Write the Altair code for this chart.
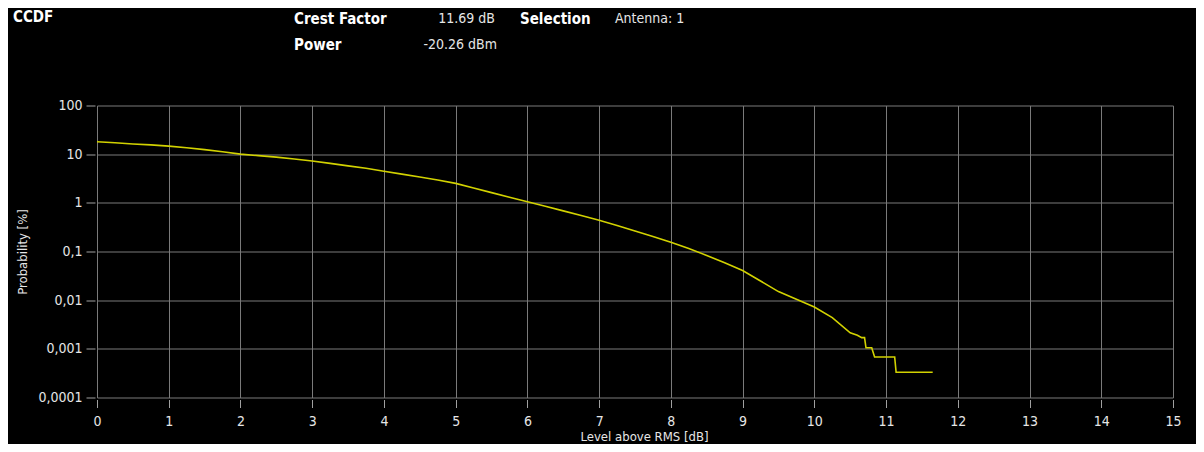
import altair as alt
import pandas as pd

# ---- data ----
level_db = [0.0, 0.25, 0.5, 0.75, 1.0, 1.25, 1.5, 1.75, 2.0, 2.25, 2.5, 2.75,
            3.0, 3.25, 3.5, 3.75, 4.0, 4.25, 4.5, 4.75, 5.0, 5.25, 5.5, 5.75,
            6.0, 6.25, 6.5, 6.75, 7.0, 7.25, 7.5, 7.75, 8.0, 8.25, 8.5, 8.75,
            9.0, 9.25, 9.5, 9.75, 10.0, 10.25, 10.5, 10.6, 10.66, 10.70, 10.72,
            10.80, 10.84, 11.12, 11.14, 11.65]
prob_pct = [18.0, 17.2, 16.2, 15.5, 14.6, 13.5, 12.4, 11.2, 10.0, 9.33, 8.71, 7.94,
            7.24, 6.46, 5.75, 5.13, 4.47, 3.89, 3.39, 2.95, 2.51, 2.02, 1.62, 1.30,
            1.05, 0.851, 0.684, 0.550, 0.437, 0.343, 0.263, 0.204, 0.155, 0.115, 0.0832, 0.0589,
            0.0407, 0.0248, 0.0150, 0.0104, 0.00724, 0.00437, 0.00214, 0.0019, 0.0017, 0.0017, 0.00105,
            0.00105, 0.00068, 0.00068, 0.00033, 0.00033]

x_ticks = list(range(0, 16))
y_ticks = [0.0001, 0.001, 0.01, 0.1, 1, 10, 100]

df = pd.DataFrame({"level": level_db, "prob": prob_pct})

FONT = "Liberation Sans Narrow, DejaVu Sans Condensed, Arial Narrow, Liberation Sans, sans-serif"
GRID = "#7a7a7a"
TXT = "#e6e6e6"

W, H = 1076, 292

base = alt.Chart(df)

curve = base.mark_line(color="#d2d200", strokeWidth=1.6, clip=True).encode(
    x=alt.X("level:Q",
            scale=alt.Scale(domain=[0, 15], nice=False, zero=False),
            axis=alt.Axis(values=x_ticks, format="d", grid=True, gridColor=GRID,
                          gridWidth=1, domain=False, tickColor="#a0a0a0",
                          tickSize=8, offset=2, labelFontSize=14, labelColor=TXT,
                          labelFont=FONT, labelPadding=7, labelFlush=False,
                          title="Level above RMS [dB]", titleFont=FONT,
                          titleFontSize=13, titleFontWeight="normal",
                          titleColor=TXT, titleX=547, titleY=37,
                          titleBaseline="middle", titleAlign="center")),
    y=alt.Y("prob:Q",
            scale=alt.Scale(type="log", domain=[0.0001, 100], nice=False),
            axis=alt.Axis(values=y_ticks, grid=True, gridColor=GRID, gridWidth=1,
                          domain=False, tickColor="#a0a0a0", tickSize=9, offset=2,
                          labelFontSize=14, labelColor=TXT, labelFont=FONT,
                          labelPadding=4, labelFlush=False,
                          labelExpr="replace(toString(datum.value), '.', ',')",
                          title="Probability [%]", titleFont=FONT, titleFontSize=13,
                          titleFontWeight="normal", titleColor=TXT, titleX=-73,
                          titleY=146, titleAngle=270, titleAlign="center",
                          titleBaseline="middle")),
)


def label(text, px, py, bold=False, align="left", size=15):
    return alt.Chart(alt.Data(values=[{"t": text}])).mark_text(
        align=align, baseline="middle", font=FONT, fontSize=size,
        fontWeight="bold" if bold else "normal",
        color="#ffffff" if bold else TXT,
    ).encode(x=alt.value(px), y=alt.value(py), text="t:N")


texts = [
    label("CCDF", -84, -88.5, bold=True),
    label("Crest Factor", 197, -86.5, bold=True),
    label("11.69 dB", 398, -86.5, align="right", size=14),
    label("Selection", 423, -86.5, bold=True),
    label("Antenna: 1", 518, -86.5, size=14),
    label("Power", 197, -60.5, bold=True),
    label("-20.26 dBm", 400, -60.5, align="right", size=14),
]

chart = alt.layer(curve, *texts).properties(
    width=W, height=H,
    autosize=alt.AutoSizeParams(type="none"),
    padding={"left": 89, "top": 97.5, "right": 23, "bottom": 46.5},
    background="black",
).configure_view(stroke=None)

chart.save("out.html", embed_options={"renderer": "svg", "actions": False})
